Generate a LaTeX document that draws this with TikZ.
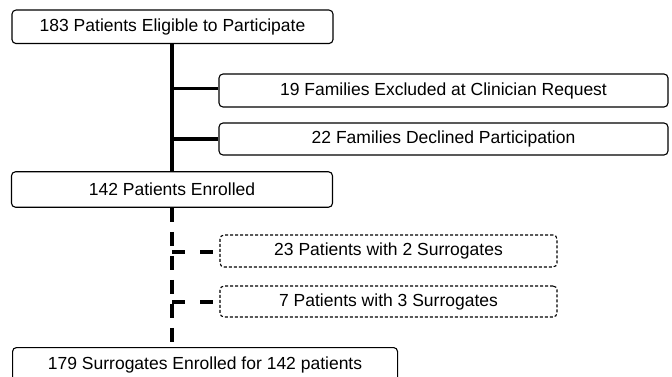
\documentclass[tikz,border=0pt]{standalone}
\usepackage{fontspec}
\setmainfont{Liberation Sans}
\begin{document}
\begin{tikzpicture}[x=1pt,y=-1pt,
  box/.style={draw, rounded corners=4pt, line width=1.1pt, inner sep=0pt, font=\fontsize{17.5}{20}\selectfont},
  dbox/.style={box, dash pattern=on 3pt off 2pt},
  solidline/.style={line width=3.2pt},
  dashline/.style={line width=3.2pt, dash pattern=on 14pt off 10pt},
  branchline/.style={line width=3.2pt, dash pattern=on 13pt off 15pt}]
\useasboundingbox (0,0) rectangle (672,377);
\node[box, minimum width=321pt, minimum height=33.5pt] (elig) at (172.5,26.8) {183 Patients Eligible to Participate};
\node[box, minimum width=449pt, minimum height=33pt] (excl) at (443.5,90.5) {19 Families Excluded at Clinician Request};
\node[box, minimum width=449pt, minimum height=32pt] (decl) at (443.5,139) {22 Families Declined Participation};
\node[box, minimum width=321pt, minimum height=35.5pt] (enr) at (172,189.5) {142 Patients Enrolled};
\node[dbox, minimum width=337pt, minimum height=32pt] (two) at (388.5,251) {23 Patients with 2 Surrogates};
\node[dbox, minimum width=337pt, minimum height=31pt] (three) at (388.5,301.5) {7 Patients with 3 Surrogates};
\node[box, minimum width=385pt, minimum height=35pt, anchor=north west] (sur) at (12,347) {179 Surrogates Enrolled for 142 patients};
\coordinate (j1) at (172,88.5);
\coordinate (j2) at (172,139);
\coordinate (j3) at (172,252);
\coordinate (j4) at (172,302);
\draw[solidline] (elig.south -| j1) -- (enr.north -| j1);
\draw[solidline] (j1) -- (j1 -| excl.west);
\draw[solidline] (j2) -- (j2 -| decl.west);
\draw[dashline] (enr.south -| j3) -- (sur.north -| j3);
\draw[branchline] (j3) -- (j3 -| two.west);
\draw[branchline] (j4) -- (j4 -| three.west);
\end{tikzpicture}
\end{document}
